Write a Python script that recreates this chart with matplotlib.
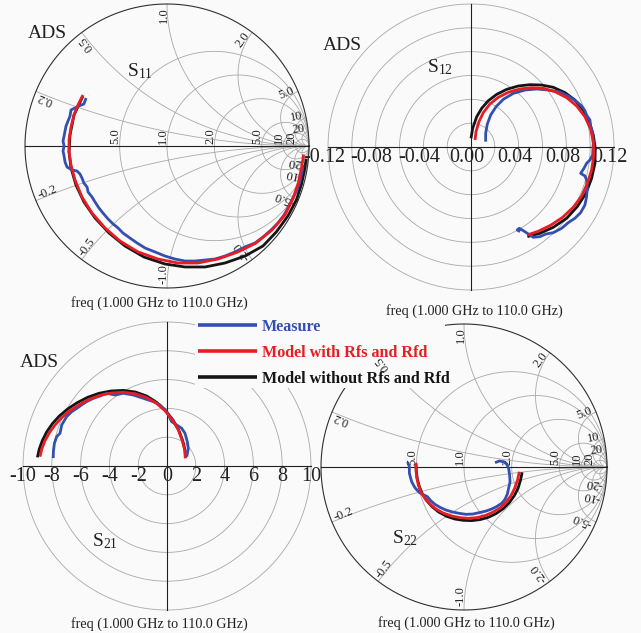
import numpy as np
import matplotlib
matplotlib.use("Agg")
import matplotlib.pyplot as plt
from matplotlib.patches import Rectangle

plt.rcParams['font.family'] = ['Liberation Serif', 'DejaVu Serif']
plt.rcParams['mathtext.fontset'] = 'custom'
plt.rcParams['mathtext.rm'] = 'Liberation Serif'
plt.rcParams['mathtext.it'] = 'Liberation Serif:italic'
plt.rcParams['axes.unicode_minus'] = False

# ---------------- data ----------------
LEGEND_LABELS = ["Measure", "Model with Rfs and Rfd", "Model without Rfs and Rfd"]
FREQ_TEXT = "freq (1.000 GHz to 110.0 GHz)"

# Smith chart grid values
R_CIRCLES = [0.5, 1.0, 2.0, 5.0, 10.0, 20.0]
AXIS_LABELS = ["5.0", "1.0", "2.0", "5.0", "10", "20"]
X_ARCS = [0.2, 0.5, 1.0, 2.0, 5.0, 10.0, 20.0]
X_LABELS_POS = ["0.2", "0.5", "1.0", "2.0", "5.0", "10", "20"]
X_LABELS_NEG = ["-0.2", "-0.5", "-1.0", "-2.0", "-5.0", "-10", "-20"]

# polar grid values
S12_RINGS = [0.02, 0.04, 0.06, 0.08, 0.10, 0.12]
S12_TICKS = [-0.12, -0.08, -0.04, 0.0, 0.04, 0.08, 0.12]
S12_TICKLABELS = ["-0.12", "-0.08", "-0.04", "0.00", "0.04", "0.08", "0.12"]
S21_RINGS = [2, 4, 6, 8, 10]
S21_TICKS = [-10, -8, -6, -4, -2, 0, 2, 4, 6, 8, 10]
S21_TICKLABELS = ["-10", "-8", "-6", "-4", "-2", "0", "2", "4", "6", "8", "10"]

# S11 (reflection coefficient, real / imag)
S11_MEAS_RE = [-0.570, -0.585, -0.620, -0.648, -0.676, -0.683, -0.697, -0.711, -0.718, -0.725, -0.732,
               -0.725, -0.732, -0.725, -0.718, -0.704, -0.669, -0.634, -0.613, -0.599, -0.585, -0.563,
               -0.556, -0.528, -0.507, -0.479, -0.451, -0.415, -0.380, -0.345, -0.310, -0.261, -0.211,
               -0.155, -0.085, -0.014, 0.056, 0.127, 0.197, 0.268, 0.338, 0.408, 0.479, 0.549, 0.620,
               0.676, 0.732, 0.782, 0.824, 0.859, 0.887, 0.915, 0.937, 0.951, 0.958]
S11_MEAS_IM = [0.338, 0.296, 0.282, 0.268, 0.254, 0.211, 0.176, 0.141, 0.106, 0.070, 0.035,
               0.0, -0.035, -0.070, -0.113, -0.148, -0.169, -0.176, -0.197, -0.225, -0.261, -0.289,
               -0.324, -0.359, -0.394, -0.437, -0.472, -0.514, -0.549, -0.577, -0.613, -0.648, -0.683,
               -0.718, -0.746, -0.775, -0.796, -0.810, -0.810, -0.803, -0.796, -0.775, -0.746, -0.711, -0.683,
               -0.641, -0.592, -0.542, -0.486, -0.423, -0.366, -0.310, -0.246, -0.183, -0.134]
S11_RFS_RE = [-0.592, -0.627, -0.655, -0.676, -0.690, -0.690, -0.676, -0.648, -0.599, -0.528, -0.437,
              -0.331, -0.204, -0.063, 0.077, 0.218, 0.359, 0.500, 0.627, 0.739, 0.831, 0.887, 0.925,
              0.948, 0.962]
S11_RFS_IM = [0.359, 0.289, 0.218, 0.134, 0.042, -0.042, -0.134, -0.239, -0.359, -0.472, -0.577,
              -0.669, -0.746, -0.796, -0.824, -0.824, -0.796, -0.746, -0.683, -0.592, -0.486, -0.370,
              -0.258, -0.152, -0.060]
S11_NORFS_RE = [-0.592, -0.655, -0.683, -0.690, -0.676, -0.641, -0.585, -0.507, -0.408, -0.296, -0.162,
                -0.014, 0.127, 0.268, 0.408, 0.549, 0.676, 0.770, 0.852, 0.912, 0.948, 0.970, 0.980]
S11_NORFS_IM = [0.352, 0.218, 0.077, -0.042, -0.155, -0.275, -0.394, -0.507, -0.613, -0.704, -0.782,
                -0.831, -0.852, -0.852, -0.824, -0.775, -0.704, -0.605, -0.492, -0.378, -0.266, -0.160,
                -0.090]

# S12 (real / imag)
S12_MEAS_RE = [0.0123, 0.0123, 0.0137, 0.0165, 0.0210, 0.0271, 0.0355, 0.0453, 0.0551, 0.0649, 0.0747,
               0.0825, 0.0887, 0.0929, 0.0956, 0.0970, 0.0998, 0.1004, 0.1021, 0.1026, 0.1021, 0.0998,
               0.0970, 0.0948, 0.0920, 0.0956, 0.0970, 0.0976, 0.0970, 0.0956, 0.0920, 0.0872, 0.0816,
               0.0761, 0.0690, 0.0629, 0.0579, 0.0523, 0.0481, 0.0439, 0.0405, 0.0388, 0.0411]
S12_MEAS_IM = [0.0045, 0.0115, 0.0193, 0.0268, 0.0338, 0.0400, 0.0450, 0.0478, 0.0487, 0.0478, 0.0461,
               0.0422, 0.0380, 0.0344, 0.0305, 0.0268, 0.0227, 0.0171, 0.0115, 0.0031, -0.0067, -0.0109,
               -0.0137, -0.0179, -0.0221, -0.0243, -0.0277, -0.0347, -0.0417, -0.0487, -0.0551, -0.0598, -0.0635,
               -0.0682, -0.0719, -0.0730, -0.0752, -0.0758, -0.0730, -0.0702, -0.0682, -0.0696, -0.0711]
S12_RFS_RE = [0.0034, 0.0042, 0.0067, 0.0103, 0.0159, 0.0229, 0.0313, 0.0411, 0.0509, 0.0607, 0.0705,
              0.0803, 0.0887, 0.0956, 0.1004, 0.1029, 0.1029, 0.1012, 0.0976, 0.0929, 0.0858, 0.0769,
              0.0668, 0.0565, 0.0473]
S12_RFS_IM = [0.0059, 0.0129, 0.0213, 0.0288, 0.0361, 0.0417, 0.0459, 0.0487, 0.0498, 0.0492, 0.0464,
              0.0414, 0.0344, 0.0254, 0.0148, 0.0031, -0.0081, -0.0193, -0.0305, -0.0411, -0.0506, -0.0590,
              -0.0657, -0.0707, -0.0738]
S12_NORFS_RE = [0.0000, 0.0014, 0.0048, 0.0090, 0.0145, 0.0216, 0.0300, 0.0397, 0.0495, 0.0593, 0.0690,
                0.0789, 0.0872, 0.0942, 0.0993, 0.1026, 0.1043, 0.1040, 0.1012, 0.0965, 0.0892, 0.0803,
                0.0690, 0.0579, 0.0473]
S12_NORFS_IM = [0.0073, 0.0157, 0.0254, 0.0325, 0.0388, 0.0442, 0.0484, 0.0512, 0.0523, 0.0520, 0.0501,
                0.0456, 0.0394, 0.0310, 0.0212, 0.0101, -0.0011, -0.0137, -0.0263, -0.0388, -0.0500, -0.0598,
                -0.0674, -0.0724, -0.0752]

# S21 (real / imag)
S21_MEAS_RE = [-7.90, -7.89, -7.82, -7.66, -7.43, -7.31, -6.97, -6.62, -6.27, -5.93, -5.58, -5.12, -4.65,
               -4.19, -3.61, -3.03, -2.34, -1.64, -0.95, -0.49, -0.02, 0.32, 0.67, 1.02, 1.25, 1.41,
               1.48, 1.37]
S21_MEAS_IM = [0.55, 1.00, 1.57, 2.04, 2.27, 2.85, 3.43, 3.77, 4.00, 4.24, 4.47, 4.70, 4.86,
               5.05, 4.93, 5.05, 4.93, 4.70, 4.47, 4.24, 3.77, 3.08, 2.85, 2.62, 2.27, 1.69,
               1.23, 0.65]
S21_RFS_RE = [-8.82, -8.68, -8.47, -8.17, -7.78, -7.31, -6.74, -6.09, -5.39, -4.65, -3.84, -3.03, -2.22,
              -1.46, -0.76, -0.14, 0.39, 0.79, 1.06, 1.23, 1.27]
S21_RFS_IM = [0.65, 1.23, 1.76, 2.31, 2.85, 3.36, 3.84, 4.26, 4.63, 4.91, 5.07, 5.12, 5.02,
              4.77, 4.38, 3.84, 3.19, 2.50, 1.76, 1.11, 0.53]
S21_NORFS_RE = [-9.00, -8.87, -8.66, -8.36, -7.96, -7.48, -6.90, -6.23, -5.51, -4.72, -3.89, -3.03, -2.20,
                -1.41, -0.72, -0.12, 0.42, 0.81, 1.09, 1.25, 1.30]
S21_NORFS_IM = [0.60, 1.18, 1.76, 2.36, 2.94, 3.47, 3.96, 4.40, 4.77, 5.05, 5.21, 5.25, 5.14,
                4.86, 4.42, 3.87, 3.19, 2.50, 1.76, 1.11, 0.58]

# S22 (reflection coefficient, real / imag)
S22_MEAS_RE = [-0.394, -0.382, -0.382, -0.366, -0.343, -0.312, -0.280, -0.256, -0.233, -0.203, -0.168,
               -0.126, -0.079, -0.033, 0.014, 0.061, 0.107, 0.154, 0.193, 0.228, 0.263, 0.287, 0.303,
               0.312, 0.322, 0.319, 0.312, 0.298, 0.275, 0.247, 0.217]
S22_MEAS_IM = [0.035, 0.002, -0.044, -0.103, -0.145, -0.179, -0.196, -0.207, -0.235, -0.261, -0.282,
               -0.301, -0.315, -0.324, -0.331, -0.329, -0.319, -0.308, -0.294, -0.277, -0.254, -0.226, -0.189,
               -0.149, -0.103, -0.056, -0.009, 0.021, 0.037, 0.042, 0.030]
S22_RFS_RE = [-0.336, -0.336, -0.331, -0.319, -0.301, -0.273, -0.238, -0.196, -0.145, -0.086, -0.028,
              0.030, 0.089, 0.147, 0.200, 0.252, 0.294, 0.329, 0.354, 0.373, 0.382, 0.387]
S22_RFS_IM = [0.030, -0.021, -0.072, -0.126, -0.175, -0.219, -0.259, -0.294, -0.322, -0.343, -0.354,
              -0.359, -0.354, -0.340, -0.317, -0.287, -0.247, -0.200, -0.149, -0.096, -0.056, -0.033]
S22_NORFS_RE = [-0.336, -0.333, -0.326, -0.312, -0.291, -0.261, -0.224, -0.177, -0.121, -0.063, -0.005,
                0.054, 0.112, 0.170, 0.224, 0.275, 0.317, 0.352, 0.378, 0.394, 0.403, 0.406]
S22_NORFS_IM = [0.021, -0.033, -0.086, -0.138, -0.189, -0.235, -0.277, -0.315, -0.345, -0.364, -0.373,
                -0.375, -0.368, -0.352, -0.326, -0.291, -0.249, -0.200, -0.149, -0.096, -0.056, -0.037]

# ---------------- style ----------------
BG = '#fafafa'
BLUE = '#3450ae'
RED = '#e81c22'
BLACK = '#151515'
GRID = '#a8a8a8'
TXT = '#222222'
W, H = 641, 633

fig = plt.figure(figsize=(W / 100, H / 100), dpi=100, facecolor=BG)


def make_panel(cx, cy, rpx, rdata, pad=1.3):
    half = rpx * pad
    ax = fig.add_axes([(cx - half) / W, 1 - (cy + half) / H, 2 * half / W, 2 * half / H])
    lim = rdata * pad
    ax.set_xlim(-lim, lim)
    ax.set_ylim(-lim, lim)
    ax.axis('off')
    return ax


def smith_grid(ax):
    t = np.linspace(0, 2 * np.pi, 720)
    for r in R_CIRCLES:
        c = r / (1 + r)
        rad = 1 / (1 + r)
        ax.plot(c + rad * np.cos(t), rad * np.sin(t), color=GRID, lw=0.6, zorder=1)
    for xv in X_ARCS:
        ex = (xv ** 2 - 1) / (xv ** 2 + 1)
        ey = 2 * xv / (xv ** 2 + 1)
        a0 = np.arctan2(ey - 1 / xv, ex - 1) % (2 * np.pi)
        a = np.linspace(a0, 1.5 * np.pi, 400)
        gx = 1 + np.cos(a) / xv
        gy = 1 / xv + np.sin(a) / xv
        ax.plot(gx, gy, color=GRID, lw=0.6, zorder=1)
        ax.plot(gx, -gy, color=GRID, lw=0.6, zorder=1)
    ax.plot(np.cos(t), np.sin(t), color='#303030', lw=0.8, zorder=2)
    ax.plot([-1, 1], [0, 0], color='#202020', lw=0.8, zorder=2)
    texts = {}
    for rv, lab in zip(R_CIRCLES, AXIS_LABELS):
        g = (rv - 1) / (rv + 1)
        ax.text(g - 0.008, 0.015, lab, rotation=90, rotation_mode='anchor', ha='left',
                va='baseline', fontsize=9, color=TXT, zorder=2)
    for xv, lp, ln in zip(X_ARCS, X_LABELS_POS, X_LABELS_NEG):
        th = np.arctan2(2 * xv, xv ** 2 - 1)
        rr = 0.975
        texts[lp] = ax.text(rr * np.cos(th), rr * np.sin(th), lp, rotation=np.degrees(th),
                            rotation_mode='anchor', ha='right', va='baseline', fontsize=9,
                            color=TXT, zorder=2)
        texts[ln] = ax.text(rr * np.cos(-th), rr * np.sin(-th), ln, rotation=np.degrees(-th) + 180,
                            rotation_mode='anchor', ha='left', va='baseline', fontsize=9,
                            color=TXT, zorder=2)
    return texts


def polar_grid(ax, rings, ticks, ticklabels, dx):
    t = np.linspace(0, 2 * np.pi, 720)
    for r in rings:
        ax.plot(r * np.cos(t), r * np.sin(t), color=GRID, lw=0.6, zorder=1)
    rmax = rings[-1]
    ax.plot([-rmax, rmax], [0, 0], color='#202020', lw=0.8, zorder=2)
    ax.plot([0, 0], [-rmax, rmax], color='#202020', lw=0.8, zorder=2)
    for v, lab in zip(ticks, ticklabels):
        ax.annotate(lab, xy=(v, 0), xytext=(dx, -1), textcoords='offset pixels',
                    ha='center', va='top', fontsize=14.5, color=TXT, zorder=2)


def curves(ax, meas, rfs, norfs):
    l3, = ax.plot(norfs[0], norfs[1], color=BLACK, lw=2.0, zorder=3, solid_capstyle='butt')
    l1, = ax.plot(meas[0], meas[1], color=BLUE, lw=2.0, zorder=4, solid_capstyle='butt')
    l2, = ax.plot(rfs[0], rfs[1], color=RED, lw=2.0, zorder=5, solid_capstyle='butt')
    return l1, l2, l3


# ---------------- S11 ----------------
ax11 = make_panel(167, 146, 142, 1.0)
smith_grid(ax11)
h = curves(ax11, (S11_MEAS_RE, S11_MEAS_IM), (S11_RFS_RE, S11_RFS_IM), (S11_NORFS_RE, S11_NORFS_IM))
ax11.text(-0.979, 0.761, "ADS", fontsize=14, color=TXT)
ax11.text(-0.282, 0.493, r"$\mathrm{S}_{11}$", fontsize=14, color=TXT)
ax11.text(-0.056, -1.106, FREQ_TEXT, fontsize=10.2, ha='center', va='center', color=TXT)

# ---------------- S12 ----------------
ax12 = make_panel(471, 147, 143, 0.12)
polar_grid(ax12, S12_RINGS, S12_TICKS, S12_TICKLABELS, -4)
curves(ax12, (S12_MEAS_RE, S12_MEAS_IM), (S12_RFS_RE, S12_RFS_IM), (S12_NORFS_RE, S12_NORFS_IM))
ax12.text(-0.124, 0.081, "ADS", fontsize=14, color=TXT)
ax12.text(-0.037, 0.063, r"$\mathrm{S}_{12}$", fontsize=14, color=TXT)
ax12.text(0.003, -0.138, FREQ_TEXT, fontsize=10.2, ha='center', va='center', color=TXT)

# ---------------- S21 ----------------
ax21 = make_panel(167, 466, 144, 10.0)
polar_grid(ax21, S21_RINGS, S21_TICKS, S21_TICKLABELS, 0)
curves(ax21, (S21_MEAS_RE, S21_MEAS_IM), (S21_RFS_RE, S21_RFS_IM), (S21_NORFS_RE, S21_NORFS_IM))
ax21.text(-10.2, 6.875, "ADS", fontsize=14, color=TXT)
ax21.text(-5.2, -5.6, r"$\mathrm{S}_{21}$", fontsize=14, color=TXT)
ax21.text(-0.5, -11.0, FREQ_TEXT, fontsize=10.2, ha='center', va='center', color=TXT)

# ---------------- S22 ----------------
ax22 = make_panel(464, 467, 143, 1.0)
t22 = smith_grid(ax22)
curves(ax22, (S22_MEAS_RE, S22_MEAS_IM), (S22_RFS_RE, S22_RFS_IM), (S22_NORFS_RE, S22_NORFS_IM))
ax22.text(-0.503, -0.531, r"$\mathrm{S}_{22}$", fontsize=14, color=TXT)
ax22.text(0.014, -1.09, FREQ_TEXT, fontsize=10.2, ha='center', va='center', color=TXT)
t22["0.5"].set_zorder(7)

# ---------------- legend ----------------
box = Rectangle((195 / W, 1 - 388 / H), 250 / W, 69 / H, transform=fig.transFigure,
                facecolor=BG, edgecolor='none', zorder=4.5, clip_on=False)
ax22.add_patch(box)
leg = ax22.legend(h, LEGEND_LABELS, loc='upper left', bbox_to_anchor=(198 / W, 1 - 319 / H),
                  bbox_transform=fig.transFigure, frameon=False, borderpad=0, borderaxespad=0,
                  handlelength=3.65, handletextpad=0.3, labelspacing=0.62,
                  prop=dict(family='Liberation Serif', weight='bold', size=11.6))
for txt, c in zip(leg.get_texts(), [BLUE, RED, BLACK]):
    txt.set_color(c)
for lh in leg.legend_handles:
    lh.set_linewidth(2.6)
leg.set_zorder(6)

fig.savefig("out.png", dpi=100, facecolor=BG)
